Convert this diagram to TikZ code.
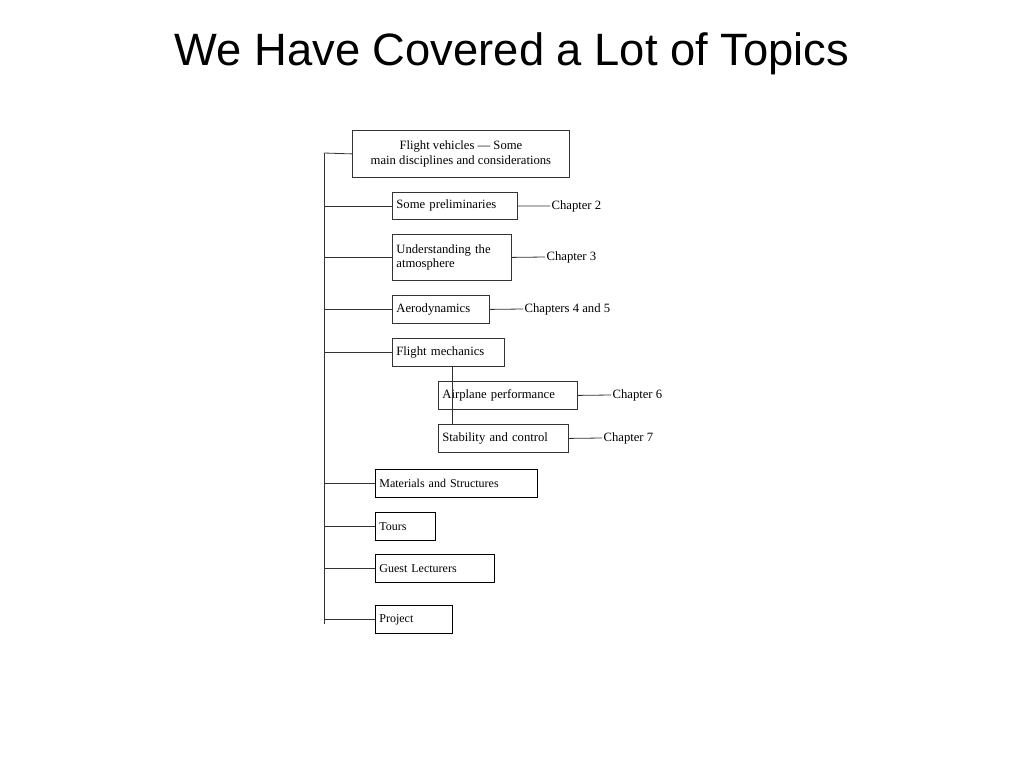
\documentclass[tikz,border=0pt]{standalone}
\usepackage{fontspec}
\setmainfont{Liberation Serif}
\newfontfamily\titlefont{Liberation Sans}
\begin{document}
\begin{tikzpicture}[x=0.75pt,y=-0.75pt,
  bx/.style={draw=black!80,line width=0.6pt,anchor=north west,inner sep=0pt,font=\fontsize{9.5}{11}\selectfont},
  lbl/.style={anchor=west,inner sep=1pt,font=\fontsize{9.5}{11}\selectfont},
  ln/.style={draw=black!80,line width=0.6pt}]
\useasboundingbox (0,0) rectangle (1024,768);
\node[font=\titlefont\fontsize{34}{40}\selectfont] (title) at (512,54) {We Have Covered a Lot of Topics};
\node[bx,minimum width=217*0.75pt,minimum height=47*0.75pt,align=center] (fv) at (352,130) {Flight vehicles --- Some\\main disciplines and considerations};
\node[bx,minimum width=125*0.75pt,minimum height=27*0.75pt,text width=117*0.75pt,align=left] (sp) at (392,192) {Some preliminaries};
\node[bx,minimum width=119*0.75pt,minimum height=46*0.75pt,text width=111*0.75pt,align=left] (ua) at (392,234) {Understanding the\\atmosphere};
\node[bx,minimum width=97*0.75pt,minimum height=28*0.75pt,text width=89*0.75pt,align=left] (ae) at (392,295) {Aerodynamics};
\node[bx,minimum width=112*0.75pt,minimum height=28*0.75pt,text width=104*0.75pt,align=left] (fm) at (392,338) {Flight mechanics};
\node[bx,minimum width=139*0.75pt,minimum height=28*0.75pt,text width=131*0.75pt,align=left] (ap) at (438,381) {Airplane performance};
\node[bx,minimum width=130*0.75pt,minimum height=28*0.75pt,text width=122*0.75pt,align=left] (sc) at (438,424) {Stability and control};
\begin{scope}[bx/.append style={draw=black,font=\fontsize{9}{11}\selectfont}]
\node[bx,minimum width=162*0.75pt,minimum height=28*0.75pt,text width=154*0.75pt,align=left] (ms) at (375,469) {Materials and Structures};
\node[bx,minimum width=60*0.75pt,minimum height=28*0.75pt,text width=52*0.75pt,align=left] (to) at (375,512) {Tours};
\node[bx,minimum width=119*0.75pt,minimum height=28*0.75pt,text width=111*0.75pt,align=left] (gl) at (375,554) {Guest Lecturers};
\node[bx,minimum width=77*0.75pt,minimum height=28*0.75pt,text width=69*0.75pt,align=left] (pr) at (375,605) {Project};
\end{scope}
\node[lbl] (c2) at (550,206) {Chapter 2};
\node[lbl] (c3) at (545,257) {Chapter 3};
\node[lbl] (c45) at (523,309) {Chapters 4 and 5};
\node[lbl] (c6) at (611,395) {Chapter 6};
\node[lbl] (c7) at (602,438) {Chapter 7};
\coordinate (top) at (324,153);
\coordinate (bot) at (324,624);
\draw[ln] (top) -- (bot);
\draw[ln] (top) -- (fv.west);
\foreach \n in {sp,ua,ae,fm,ms,to,gl,pr} \draw[ln] (\n.west -| top) -- (\n.west);
\draw[ln] (sp.east) -- (c2.west);
\draw[ln] (ua.east) -- (c3.west);
\draw[ln] (ae.east) -- (c45.west);
\draw[ln] (ap.east) -- (c6.west);
\draw[ln] (sc.east) -- (c7.west);
\coordinate (fmb) at (452,366);
\draw[ln] (fmb) -- (fmb |- sc.north);
\end{tikzpicture}
\end{document}
